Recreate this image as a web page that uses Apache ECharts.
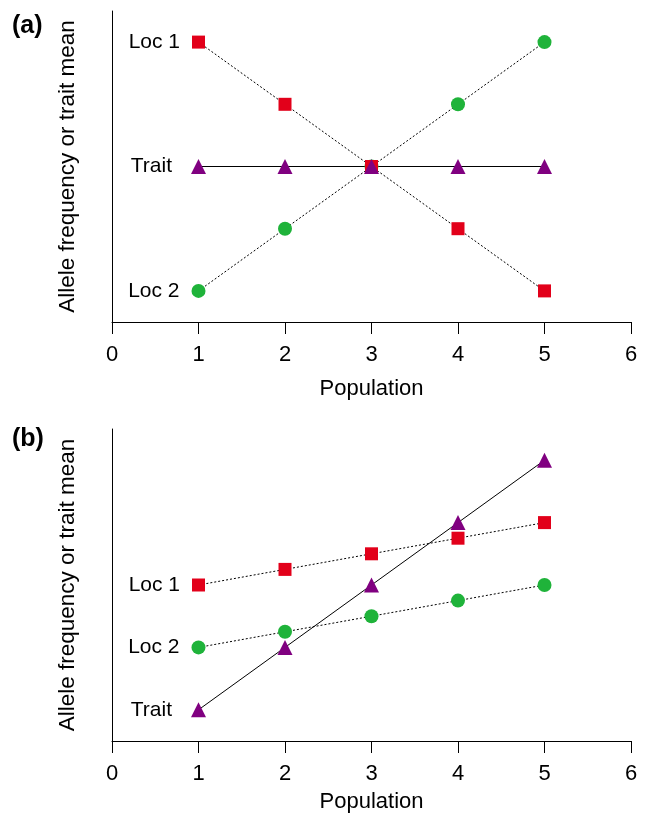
<!DOCTYPE html>
<html>
<head>
<meta charset="utf-8">
<script src="https://cdn.jsdelivr.net/npm/echarts@6/dist/echarts.min.js"></script>
<style>
  html, body { margin: 0; padding: 0; background: #fff; }
  #chart { width: 647px; height: 815px; }
</style>
</head>
<body>
<div id="chart"></div>
<script>
// populations on x axis
const populations = [1, 2, 3, 4, 5];

// panel (a) values (arbitrary y units, 0..10)
const locus1A = [9, 7, 5, 3, 1];
const locus2A = [1, 3, 5, 7, 9];
const traitA = [5, 5, 5, 5, 5];

// panel (b)
const locus1B = [5, 5.5, 6, 6.5, 7];
const locus2B = [3, 3.5, 4, 4.5, 5];
const traitB = [1, 3, 5, 7, 9];

const xTicks = ['0', '1', '2', '3', '4', '5', '6'];

const FONT = 'Liberation Sans, Arial, sans-serif';
const FS = 21;
const RED = '#e2001a';
const GREEN = '#1fb33a';
const PURPLE = '#800080';

const pairs = (vals) => populations.map((p, i) => [p, vals[i]]);

// series helper, label only on the first point
function makeSeries(name, vals, idx, symbol, size, color, dotted, gap) {
    const data = pairs(vals).map((d, i) => {
        if (i !== 0) return d;
        return {
            value: d,
            label: {
                show: true,
                position: 'left',
                distance: gap,
                formatter: name,
                color: '#000',
                fontSize: FS,
                fontFamily: FONT
            }
        };
    });
    return {
        name: name,
        type: 'line',
        xAxisIndex: idx,
        yAxisIndex: idx,
        data: data,
        symbol: symbol,
        symbolSize: size,
        itemStyle: { color: color },
        lineStyle: {
            color: '#000',
            width: 1,
            type: dotted ? [2, 2] : 'solid'
        },
        label: { show: false },
        animation: false
    };
}

function xAxisFor(idx, gap) {
    return {
        gridIndex: idx,
        type: 'value',
        min: 0,
        max: 6,
        interval: 1,
        name: 'Population',
        nameLocation: 'middle',
        nameGap: gap,
        nameTextStyle: { color: '#000', fontSize: 22, fontFamily: FONT },
        axisLine: { show: true, lineStyle: { color: '#000', width: 1 } },
        axisTick: { show: true, length: 12, lineStyle: { color: '#000' } },
        axisLabel: {
            color: '#000', fontSize: 22, fontFamily: FONT, margin: 22,
            formatter: (v) => xTicks[v]
        },
        splitLine: { show: false }
    };
}

function yAxisFor(idx) {
    return {
        gridIndex: idx,
        type: 'value',
        min: 0,
        max: 10,
        name: 'Allele frequency or trait mean',
        nameLocation: 'middle',
        nameGap: 33,
        nameTextStyle: { color: '#000', fontSize: 22.5, fontFamily: FONT },
        axisLine: { show: true, lineStyle: { color: '#000', width: 1 } },
        axisTick: { show: false },
        axisLabel: { show: false },
        splitLine: { show: false }
    };
}

const chart = echarts.init(document.getElementById('chart'));

chart.setOption({
    animation: false,
    grid: [
        { left: 112, top: 11, width: 519, height: 311, outerBoundsMode: 'none', containLabel: false },
        { left: 112, top: 429, width: 519, height: 312, outerBoundsMode: 'none', containLabel: false }
    ],
    xAxis: [xAxisFor(0, 56), xAxisFor(1, 50)],
    yAxis: [yAxisFor(0), yAxisFor(1)],
    graphic: [
        { type: 'text', left: 12, top: 14, style: { text: '(a)', font: 'bold 25px ' + FONT, fill: '#000' } },
        { type: 'text', left: 12, top: 427, style: { text: '(b)', font: 'bold 25px ' + FONT, fill: '#000' } }
    ],
    series: [
        makeSeries('Loc 2', locus2A, 0, 'circle', 14, GREEN, true, 12),
        makeSeries('Loc 1', locus1A, 0, 'rect', 13, RED, true, 12),
        makeSeries('Trait', traitA, 0, 'triangle', 15, PURPLE, false, 19),
        makeSeries('Loc 2', locus2B, 1, 'circle', 14, GREEN, true, 12),
        makeSeries('Loc 1', locus1B, 1, 'rect', 13, RED, true, 12),
        makeSeries('Trait', traitB, 1, 'triangle', 15, PURPLE, false, 19)
    ]
});
</script>
</body>
</html>
